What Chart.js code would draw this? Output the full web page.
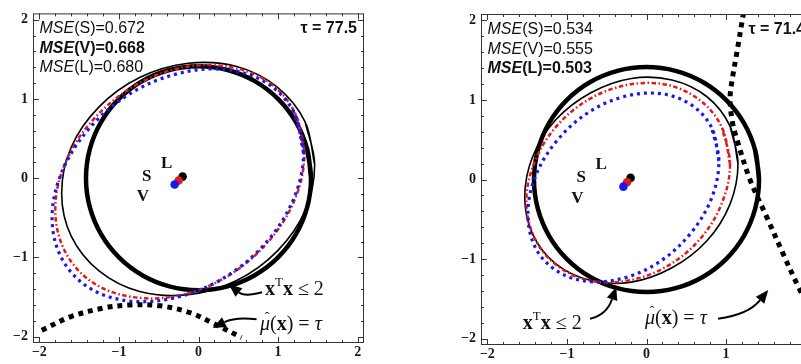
<!DOCTYPE html>
<html>
<head>
<meta charset="utf-8">
<script src="https://cdn.jsdelivr.net/npm/chart.js@4.4.1/dist/chart.umd.min.js"></script>
<style>
  html, body { margin: 0; padding: 0; background: #fff; overflow: hidden; width: 801px; height: 364px; }
  .panel { position: absolute; top: 0; }
  #wrapLeft { left: 0; }
  #wrapRight { left: 448px; }
</style>
</head>
<body>
<div class="panel" id="wrapLeft"><canvas id="chartLeft" width="380" height="364"></canvas></div>
<div class="panel" id="wrapRight"><canvas id="chartRight" width="380" height="364"></canvas></div>
<script>
// Axis ticks
const tickValues = [-2, -1, 0, 1, 2];
const tickLabels = ['\u22122', '\u22121', '0', '1', '2'];
const methods = ['S', 'V', 'L'];

// Constraint region x'x <= 2 (same in both panels)
const constraintCircle = [
    [1.414, 0], [1.366, 0.366], [1.225, 0.707], [1.0, 1.0], [0.707, 1.225], [0.366, 1.366],
    [0, 1.414], [-0.366, 1.366], [-0.707, 1.225], [-1.0, 1.0], [-1.225, 0.707], [-1.366, 0.366],
    [-1.414, 0], [-1.366, -0.366], [-1.225, -0.707], [-1.0, -1.0], [-0.707, -1.225], [-0.366, -1.366],
    [0, -1.414], [0.366, -1.366], [0.707, -1.225], [1.0, -1.0], [1.225, -0.707], [1.366, -0.366]
];

// Left panel, tau = 77.5
const leftTau = '77.5';
const leftMSE = ['0.672', '0.668', '0.680'];
const leftBest = 1;
const leftL = [
    [1.46, 0.17], [1.34, 0.71], [0.99, 1.15], [0.48, 1.41], [-0.13, 1.45], [-0.74, 1.27],
    [-1.25, 0.90], [-1.60, 0.39], [-1.72, -0.19], [-1.60, -0.73], [-1.25, -1.17], [-0.74, -1.43],
    [-0.13, -1.47], [0.48, -1.29], [0.99, -0.92], [1.34, -0.41]
];
const leftS = [
    [1.33, 0.31], [1.21, 0.83], [0.87, 1.22], [0.36, 1.41], [-0.24, 1.39], [-0.83, 1.15],
    [-1.34, 0.72], [-1.68, 0.18], [-1.80, -0.40], [-1.68, -0.92], [-1.34, -1.31], [-0.83, -1.50],
    [-0.24, -1.48], [0.36, -1.24], [0.87, -0.81], [1.21, -0.27]
];
const leftV = [
    [1.32, 0.32], [1.20, 0.83], [0.86, 1.20], [0.35, 1.37], [-0.26, 1.32], [-0.87, 1.06],
    [-1.38, 0.62], [-1.72, 0.07], [-1.84, -0.50], [-1.72, -1.01], [-1.38, -1.38], [-0.87, -1.55],
    [-0.26, -1.50], [0.35, -1.24], [0.86, -0.80], [1.20, -0.25]
];
const leftBoundary = [
    [-1.97, -1.92], [-1.61, -1.75], [-1.20, -1.64], [-0.86, -1.60], [-0.48, -1.61],
    [-0.10, -1.70], [0.18, -1.83], [0.54, -2.01]
];
const leftCenters = { L: [-0.20, 0.02], S: [-0.25, -0.03], V: [-0.30, -0.08] };
const leftLetters = { L: [-0.40, 0.19], S: [-0.65, 0.02], V: [-0.70, -0.23] };

// Right panel, tau = 71.4
const rightTau = '71.4';
const rightMSE = ['0.534', '0.555', '0.503'];
const rightBest = 2;
const rightL = [
    [1.15, 0.20], [1.05, 0.67], [0.76, 1.04], [0.32, 1.25], [-0.19, 1.27], [-0.70, 1.09],
    [-1.14, 0.75], [-1.43, 0.29], [-1.53, -0.22], [-1.43, -0.69], [-1.14, -1.06], [-0.70, -1.27],
    [-0.19, -1.29], [0.32, -1.11], [0.76, -0.77], [1.05, -0.31]
];
const rightS = [
    [1.05, 0.19], [0.95, 0.65], [0.68, 0.99], [0.26, 1.19], [-0.23, 1.19], [-0.72, 1.01],
    [-1.14, 0.66], [-1.41, 0.21], [-1.51, -0.27], [-1.41, -0.73], [-1.14, -1.07], [-0.72, -1.27],
    [-0.23, -1.27], [0.26, -1.09], [0.68, -0.74], [0.95, -0.29]
];
const rightV = [
    [0.91, 0.23], [0.82, 0.65], [0.56, 0.94], [0.17, 1.08], [-0.29, 1.04], [-0.75, 0.83],
    [-1.14, 0.47], [-1.40, 0.03], [-1.49, -0.43], [-1.40, -0.85], [-1.14, -1.14], [-0.75, -1.28],
    [-0.29, -1.24], [0.17, -1.03], [0.56, -0.67], [0.82, -0.23]
];
const rightBoundary = [
    [1.22, 2.10], [1.14, 1.62], [1.07, 1.21], [1.05, 1.00], [1.08, 0.72], [1.14, 0.49],
    [1.30, 0.0], [1.51, -0.47], [1.72, -0.94], [1.89, -1.31], [2.10, -1.72]
];
const rightCenters = { L: [-0.20, 0.02], S: [-0.245, -0.035], V: [-0.29, -0.09] };
const rightLetters = { L: [-0.57, 0.19], S: [-0.82, 0.02], V: [-0.87, -0.24] };

const BLUE = 'rgb(25, 25, 235)';
const RED = 'rgb(225, 25, 25)';
const SANS = '"Liberation Sans", Arial, sans-serif';
const SERIF = '"Liberation Serif", "Times New Roman", serif';

// draws a run of differently styled text pieces, returns end x
function drawRuns(ctx, x, y, runs) {
    for (const [text, font, dy] of runs) {
        ctx.font = font;
        ctx.fillText(text, x, y + (dy || 0));
        x += ctx.measureText(text).width;
    }
    return x;
}

function drawArrow(ctx, p0, p1, p2) {
    const ang = Math.atan2(p2.y - p1.y, p2.x - p1.x);
    const headLen = 13, headW = 5.5;
    const bx = p2.x - headLen * Math.cos(ang), by = p2.y - headLen * Math.sin(ang);
    ctx.lineWidth = 2;
    ctx.beginPath();
    ctx.moveTo(p0.x, p0.y);
    ctx.quadraticCurveTo(p1.x, p1.y, bx, by);
    ctx.stroke();
    ctx.beginPath();
    ctx.moveTo(p2.x, p2.y);
    ctx.lineTo(bx + headW * Math.sin(ang), by - headW * Math.cos(ang));
    ctx.lineTo(bx - headW * Math.sin(ang), by + headW * Math.cos(ang));
    ctx.closePath();
    ctx.fill();
}

const decorPlugin = {
    id: 'decor',
    afterDraw(chart, args, opts) {
        const ctx = chart.ctx, a = chart.chartArea;
        const xs = chart.scales.x, ys = chart.scales.y;
        const P = (v) => ({ x: xs.getPixelForValue(v[0]), y: ys.getPixelForValue(v[1]) });
        ctx.save();

        // frame with inward ticks on all four sides
        ctx.strokeStyle = '#333';
        ctx.lineWidth = 1;
        ctx.strokeRect(a.left + 0.5, a.top + 0.5, a.right - a.left - 1, a.bottom - a.top - 1);
        ctx.beginPath();
        for (let i = -10; i <= 10; i++) {
            const v = i / 5;
            const len = i % 5 === 0 ? 6 : 3;
            const px = Math.round(xs.getPixelForValue(v)) + 0.5;
            const py = Math.round(ys.getPixelForValue(v)) + 0.5;
            ctx.moveTo(px, a.bottom); ctx.lineTo(px, a.bottom - len);
            ctx.moveTo(px, a.top); ctx.lineTo(px, a.top + len);
            ctx.moveTo(a.left, py); ctx.lineTo(a.left + len, py);
            ctx.moveTo(a.right, py); ctx.lineTo(a.right - len, py);
        }
        ctx.stroke();

        ctx.fillStyle = '#111';
        ctx.textBaseline = 'alphabetic';

        // MSE legend
        ctx.textAlign = 'left';
        methods.forEach((m, i) => {
            const w = i === opts.best ? 'bold ' : '';
            drawRuns(ctx, a.left + 6.5, a.top + 20 + i * 19.5, [
                ['MSE', w + 'italic 16px ' + SANS],
                ['(' + m + ')=' + opts.mse[i], w + '16px ' + SANS]
            ]);
        });

        // tau value
        ctx.textAlign = 'right';
        ctx.font = 'bold 16px ' + SANS;
        ctx.fillText('\u03c4 = ' + opts.tau, a.right - 7, a.top + 20);

        // method letters
        ctx.textAlign = 'center';
        ctx.textBaseline = 'middle';
        ctx.font = 'bold 17px ' + SERIF;
        methods.forEach(m => {
            const p = P(opts.letters[m]);
            ctx.fillText(m, p.x, p.y);
        });

        // annotations
        ctx.textAlign = 'left';
        ctx.textBaseline = 'alphabetic';
        const t1 = P(opts.constraintText);
        drawRuns(ctx, t1.x, t1.y, [
            ['x', 'bold 20px ' + SERIF],
            ['T', '13px ' + SERIF, -9],
            ['x', 'bold 20px ' + SERIF],
            [' \u2264 2', '20px ' + SERIF]
        ]);
        const t2 = P(opts.boundaryText);
        ctx.font = 'italic 20px ' + SERIF;
        const muW = ctx.measureText('\u03bc').width;
        ctx.font = '15px ' + SERIF;
        ctx.textAlign = 'center';
        ctx.fillText('\u02c6', t2.x + muW / 2 + 2, t2.y - 8);
        ctx.textAlign = 'left';
        drawRuns(ctx, t2.x, t2.y, [
            ['\u03bc', 'italic 20px ' + SERIF],
            ['(', '20px ' + SERIF],
            ['x', 'bold 20px ' + SERIF],
            [') = ', '20px ' + SERIF],
            ['\u03c4', 'italic 20px ' + SERIF]
        ]);

        ctx.strokeStyle = '#000';
        ctx.fillStyle = '#000';
        opts.arrows.forEach(ar => drawArrow(ctx, P(ar[0]), P(ar[1]), P(ar[2])));
        ctx.restore();
    }
};

function toPoints(arr) {
    return arr.map(([x, y]) => ({ x, y }));
}
// close the curve by repeating the first two points
function closed(arr) {
    return toPoints(arr.concat([arr[0], arr[1]]));
}

function dotSet(p, color) {
    return { data: toPoints([p]), showLine: false, pointRadius: 4.3, pointBackgroundColor: color, pointBorderWidth: 0 };
}

function axis(size, pad, isX) {
    return {
        type: 'linear',
        min: -2.08,
        max: 2.08,
        grid: { display: false, drawTicks: false, tickLength: 0 },
        border: { display: false },
        afterFit: s => { if (isX) s.height = size; else s.width = size; },
        afterBuildTicks: s => { s.ticks = tickValues.map(v => ({ value: v })); },
        ticks: {
            color: '#1a1a1a',
            padding: pad,
            maxRotation: 0,
            autoSkip: false,
            font: { family: SERIF, size: 14, weight: 'bold' },
            callback: v => tickLabels[tickValues.indexOf(v)]
        }
    };
}

function createPanel(ctx, p) {
    const curve = { showLine: true, pointRadius: 0, tension: 0.35, fill: false };
    new Chart(ctx, {
        type: 'scatter',
        data: {
            datasets: [
                dotSet(p.centers.V, BLUE),
                dotSet(p.centers.S, RED),
                dotSet(p.centers.L, '#000'),
                Object.assign({ data: toPoints(p.boundary), borderColor: '#000', borderWidth: 5, borderDash: [5, 5] }, curve),
                Object.assign({ data: closed(p.V), borderColor: BLUE, borderWidth: 3.2, borderDash: [3, 4] }, curve),
                Object.assign({ data: closed(p.S), borderColor: RED, borderWidth: 2.5, borderDash: [4.5, 2.5, 1.5, 2.5] }, curve),
                Object.assign({ data: closed(p.L), borderColor: '#000', borderWidth: 1.6 }, curve),
                Object.assign({ data: closed(constraintCircle), borderColor: '#000', borderWidth: 4.5 }, curve)
            ]
        },
        options: {
            responsive: false,
            animation: false,
            layout: { padding: { left: 0, top: p.top, right: 16, bottom: 0 } },
            plugins: {
                legend: { display: false },
                tooltip: { enabled: false },
                decor: p.decor
            },
            scales: {
                x: axis(364 - 331 - p.top, 1, true),
                y: axis(33, 5, false)
            }
        },
        plugins: [decorPlugin]
    });
}

document.addEventListener('DOMContentLoaded', function() {
    createPanel(document.getElementById('chartLeft'), {
        top: 12,
        L: leftL, S: leftS, V: leftV,
        boundary: leftBoundary,
        centers: leftCenters,
        decor: {
            mse: leftMSE, best: leftBest, tau: leftTau, letters: leftLetters,
            constraintText: [0.835, -1.476],
            boundaryText: [0.773, -1.916],
            arrows: [
                [[0.80, -1.44], [0.58, -1.50], [0.38, -1.34]],
                [[0.73, -1.78], [0.46, -1.75], [0.18, -1.89]]
            ]
        }
    });
    createPanel(document.getElementById('chartRight'), {
        top: 14,
        L: rightL, S: rightS, V: rightV,
        boundary: rightBoundary,
        centers: rightCenters,
        decor: {
            mse: rightMSE, best: rightBest, tau: rightTau, letters: rightLetters,
            constraintText: [-1.555, -1.877],
            boundaryText: [-0.019, -1.814],
            arrows: [
                [[-0.71, -1.75], [-0.50, -1.70], [-0.38, -1.35]],
                [[0.90, -1.75], [1.28, -1.70], [1.53, -1.39]]
            ]
        }
    });
});
</script>
</body>
</html>
